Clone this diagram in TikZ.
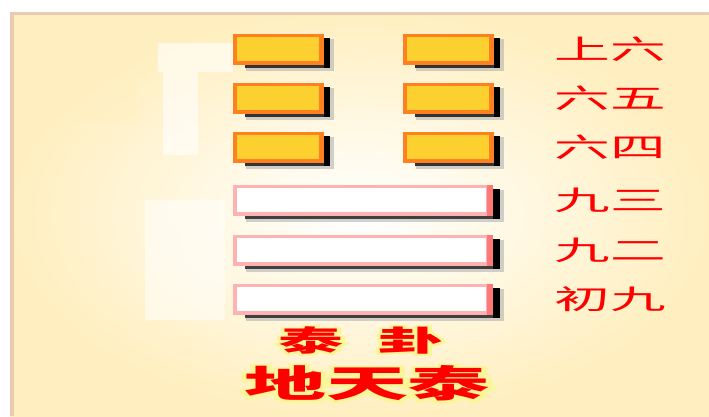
\documentclass[tikz,border=0pt]{standalone}
\usepackage{fontspec}
\newfontfamily\cjk{Noto Sans CJK SC}
\newfontfamily\cjkglow{Noto Sans CJK SC Bold}[FakeBold=12]
\usetikzlibrary{positioning}
\definecolor{panelyellow}{RGB}{255,239,192}
\definecolor{paneledge}{RGB}{232,203,178}
\definecolor{yinorange}{RGB}{255,128,32}
\definecolor{yingold}{RGB}{252,208,46}
\definecolor{yangpink}{RGB}{255,178,178}
\definecolor{yangred}{RGB}{255,120,120}
\definecolor{labelred}{RGB}{255,0,0}
\definecolor{glowyellow}{RGB}{250,246,150}
\newcommand{\wide}[2]{\scalebox{#1}[1]{#2}}
\newcommand{\glowtext}[1]{\rlap{\color{glowyellow}\cjkglow #1}#1}

\begin{document}
\begin{tikzpicture}[x=0.025cm,y=-0.025cm,
  yaolabel/.style={inner sep=0pt,text=labelred,font=\cjk\fontsize{19.3}{20}\selectfont},
  guaname/.style={inner sep=0pt,text=labelred,font=\cjk\bfseries\fontsize{20.5}{22}\selectfont},
  guatitle/.style={inner sep=0pt,text=labelred,font=\cjk\bfseries\fontsize{26.5}{28}\selectfont}]
\useasboundingbox (0,0) rectangle (709,416);
\fill[white] (0,0) rectangle (709,416);
% panel
\shade[inner color=white,outer color=panelyellow] (10,12) rectangle (709,416);
\fill[white,opacity=0.6] (158,43) rectangle (233,72);
\fill[white,opacity=0.6] (163,72) rectangle (198,155);
\fill[white,opacity=0.5] (145,200) rectangle (225,320);
\fill[panelyellow,opacity=0.3] (62,61) rectangle (137,123);
\fill[paneledge] (10,12) rectangle (709,15);
\fill[paneledge] (10,12) rectangle (14,416);
% yin lines
\foreach \y in {34,83,132}
\foreach \x in {233,403} {
  \fill[black!30,opacity=0.6] (\x+13,\y+5) rectangle (\x+101,\y+37);
  \fill[black!80] (\x+12,\y+4) rectangle (\x+97,\y+34);
  \fill[black] (\x+91,\y+4) rectangle (\x+97,\y+34);
  \fill[yinorange] (\x,\y) rectangle (\x+91,\y+31);
  \fill[yingold] (\x+4,\y+3) rectangle (\x+86,\y+27);
}
% yang lines
\foreach \y in {185,235,284} {
  \fill[black!30,opacity=0.6] (246,\y+5) rectangle (504,\y+37);
  \fill[black!75] (245,\y+4) rectangle (500,\y+34);
  \fill[black] (493,\y+4) rectangle (500,\y+34);
  \fill[yangpink] (233,\y) rectangle (493,\y+31);
  \fill[yangred] (487,\y) rectangle (493,\y+31);
  \fill[white] (237,\y+3) rectangle (486,\y+27);
}
% labels
\node[yaolabel] (shangliu) at (610,49.5) {\wide{2.05}{上六}};
\node[yaolabel] (liuwu) at (610,98.5) {\wide{2.05}{六五}};
\node[yaolabel] (liusi) at (610,147.5) {\wide{2.05}{六四}};
\node[yaolabel] (jiusan) at (610,200) {\wide{2.05}{九三}};
\node[yaolabel] (jiuer) at (610,250) {\wide{2.05}{九二}};
\node[yaolabel] (chujiu) at (610,299) {\wide{2.05}{初九}};
\node[guaname] (guatai) at (311,340.5) {\wide{2.25}{\glowtext{泰}}};
\node[guaname] (guagua) at (411,340.5) {\wide{2.25}{\glowtext{卦}}};
\node[guatitle] (title) at (367,383.5) {\wide{2.2}{\glowtext{地天泰}}};
\end{tikzpicture}
\end{document}
